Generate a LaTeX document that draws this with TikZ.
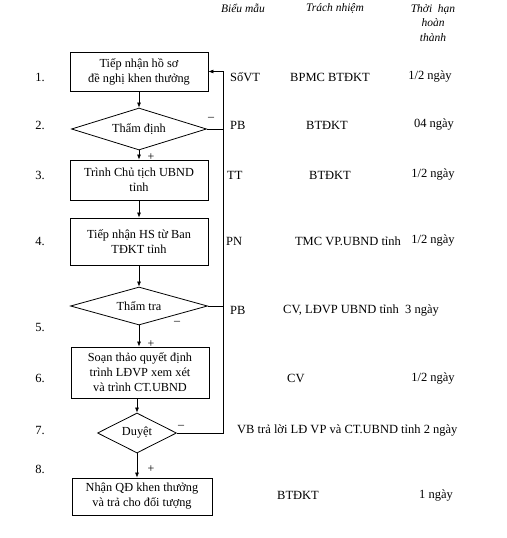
\documentclass[tikz,border=0pt]{standalone}
\usepackage{fontspec}
\setmainfont{Liberation Serif}
\usetikzlibrary{positioning,shapes.geometric,arrows.meta}

\tikzset{
  stepbox/.style={rectangle,draw,line width=0.8pt,align=center,inner sep=1pt,
    font=\fontsize{12.3}{15}\selectfont},
  decide/.style={diamond,draw,line width=0.8pt,aspect=3,inner sep=0pt,
    font=\fontsize{12.3}{15}\selectfont},
  cell/.style={inner sep=0pt,font=\fontsize{12.5}{14}\selectfont},
  head/.style={inner sep=0pt,align=center,font=\fontsize{11.5}{14.5}\selectfont\itshape},
  sign/.style={inner sep=0pt,font=\fontsize{12}{12}\selectfont},
  flow/.style={-{Latex[length=5pt,width=4pt]},line width=0.7pt}
}

\begin{document}
\begin{tikzpicture}[x=1pt,y=-1pt]
  \useasboundingbox (0,0) rectangle (506,538);

  % column headers
  \node[head] (hform) at (243,8) {Biểu mẫu};
  \node[head] (hresp) at (335,8) {Trách nhiệm};
  \node[head] (htime) at (433,23) {Thời \ hạn\\hoàn\\thành};

  % flow chart
  \node[stepbox,minimum width=138pt,minimum height=39pt] (b1) at (139,71.5) {Tiếp nhận hồ sơ\\đề nghị khen thưởng};
  \node[decide,minimum width=135pt,minimum height=42pt] (d2) at (139,129) {Thẩm định};
  \node[stepbox,minimum width=138pt,minimum height=40pt] (b3) at (139,180) {Trình Chủ tịch UBND\\tỉnh};
  \node[stepbox,minimum width=138pt,minimum height=47pt] (b4) at (139,241.5) {Tiếp nhận HS từ Ban\\TĐKT tỉnh};
  \node[decide,minimum width=137pt,minimum height=38pt] (d5) at (139,306) {Thẩm tra};
  \node[stepbox,minimum width=138pt,minimum height=51pt] (b6) at (140,372.5) {Soạn thảo quyết định\\trình LĐVP xem xét\\và trình CT.UBND};
  \node[decide,minimum width=79pt,minimum height=40pt] (d7) at (137,433) {Duyệt};
  \node[stepbox,minimum width=140pt,minimum height=37pt] (b8) at (142,496.5) {Nhận QĐ khen thưởng\\và trả cho đối tượng};

  \draw[flow] (b1.south) -- (b1.south |- d2.north);
  \draw[flow] (d2.south) -- (d2.south |- b3.north);
  \draw[flow] (b3.south) -- (b3.south |- b4.north);
  \draw[flow] (b4.south) -- (b4.south |- d5.north);
  \draw[flow] (d5.south) -- (d5.south |- b6.north);
  \draw[flow] (d7.south |- b6.south) -- (d7.north);
  \draw[flow] (d7.south) -- (d7.south |- b8.north);

  % return path
  \coordinate (rtop) at (223,71.5);
  \draw[flow] (d7.east) -| (rtop) -- (b1.east);
  \draw[line width=0.7pt] (d2.east) -- (d2.east -| rtop);
  \draw[line width=0.7pt] (d5.east) -- (d5.east -| rtop);

  \node[sign] (m2) at (211,119) {–};
  \node[sign] (m5) at (177,323) {–};
  \node[sign] (m7) at (181,427) {–};
  \node[sign] (p2) at (151,157) {+};
  \node[sign] (p5) at (151,344) {+};
  \node[sign] (p7) at (151,469) {+};

  % step numbers
  \foreach \n/\y in {1/77,2/125,3/175,4/241,5/327,6/378,7/430,8/469}
    \node[cell] (n\n) at (40,\y) {\n.};

  % forms, responsibility, time
  \node[cell,anchor=west] (f1) at (230,77) {SốVT};
  \node[cell] (r1) at (330,77) {BPMC BTĐKT};
  \node[cell] (t1) at (430,77) {1/2 ngày};

  \node[cell,anchor=west] (f2) at (230,125) {PB};
  \node[cell] (r2) at (327,125) {BTĐKT};
  \node[cell] (t2) at (434,125) {04 ngày};

  \node[cell,anchor=west] (f3) at (227,175) {TT};
  \node[cell] (r3) at (330,175) {BTĐKT};
  \node[cell] (t3) at (433,175) {1/2 ngày};

  \node[cell,anchor=west] (f4) at (226,241) {PN};
  \node[cell] (r4) at (348,241) {TMC VP.UBND tỉnh};
  \node[cell] (t4) at (433,241) {1/2 ngày};

  \node[cell,anchor=west] (f5) at (230,310) {PB};
  \node[cell,anchor=west] (r5) at (283,310) {CV, LĐVP UBND tỉnh\ \ 3 ngày};

  \node[cell,anchor=west] (r6) at (287,378) {CV};
  \node[cell] (t6) at (433,378) {1/2 ngày};

  \node[cell,anchor=west] (r7) at (237,430) {VB trả lời LĐ VP và CT.UBND tỉnh 2 ngày};

  \node[cell] (r8) at (298,495) {BTĐKT};
  \node[cell] (t8) at (436,495) {1 ngày};
\end{tikzpicture}
\end{document}
